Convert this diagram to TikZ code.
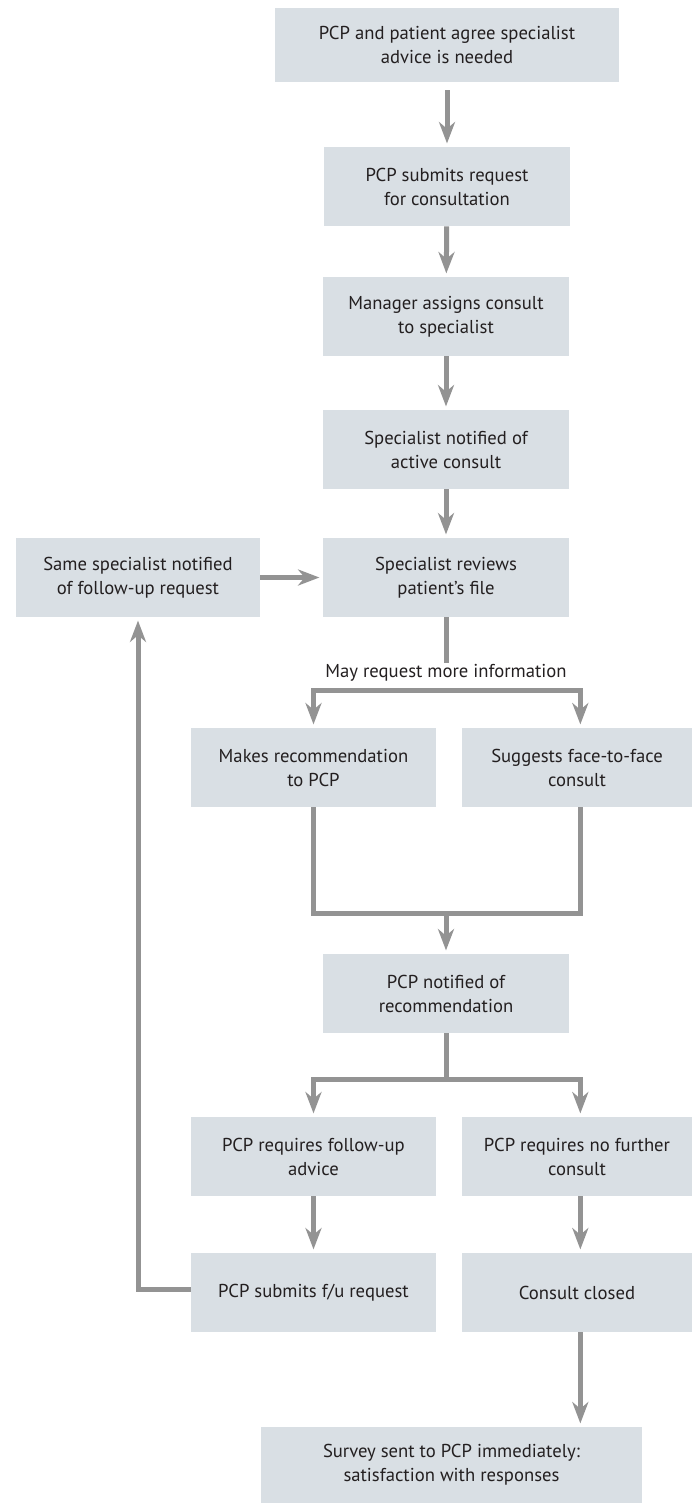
\documentclass[tikz,border=0pt]{standalone}
\usepackage{fontspec}
\setmainfont{PT Sans}
\usetikzlibrary{arrows.meta}
\definecolor{boxfill}{HTML}{D9DFE4}
\definecolor{linegray}{HTML}{939393}
\definecolor{txt}{HTML}{231F20}
\begin{document}
\begin{tikzpicture}[x=0.75pt,y=-0.75pt,
  box/.style={fill=boxfill, draw=none, text=txt, align=center, inner sep=0pt,
    font=\fontsize{14}{18}\selectfont},
  conn/.style={draw=linegray, line width=3.75pt},
  arr/.style={conn, -{Stealth[length=16pt,width=12pt,inset=5pt]}, shorten >=2.5pt}]
\useasboundingbox (0,0) rectangle (694,1503);
\node[box, minimum width=258pt, minimum height=55.5pt] (b1) at (447,45) {PCP and patient agree specialist\\advice is needed};
\node[box, minimum width=184.5pt, minimum height=59.25pt] (b2) at (447,186.5) {PCP submits request\\for consultation};
\node[box, minimum width=184.5pt, minimum height=59.25pt] (b3) at (446,316.5) {Manager assigns consult\\to specialist};
\node[box, minimum width=184.5pt, minimum height=59.25pt] (b4) at (446,449.5) {Specialist notified of\\active consult};
\node[box, minimum width=184.5pt, minimum height=59.25pt] (b5) at (446,577.5) {Specialist reviews\\patient’s file};
\node[box, minimum width=183pt, minimum height=59.25pt] (b6) at (138,577.5) {Same specialist notified\\of follow-up request};
\node[box, minimum width=183.75pt, minimum height=59.25pt] (b7) at (313.5,767.5) {Makes recommendation\\to PCP};
\node[box, minimum width=172.5pt, minimum height=59.25pt] (b8) at (577,767.5) {Suggests face-to-face\\consult};
\node[box, minimum width=184.5pt, minimum height=59.25pt] (b9) at (446,993.5) {PCP notified of\\recommendation};
\node[box, minimum width=183.75pt, minimum height=59.25pt] (b10) at (313.5,1156.5) {PCP requires follow-up\\advice};
\node[box, minimum width=172.5pt, minimum height=59.25pt] (b11) at (577,1156.5) {PCP requires no further\\consult};
\node[box, minimum width=183.75pt, minimum height=59.25pt] (b12) at (313.5,1292.5) {PCP submits f/u request};
\node[box, minimum width=172.5pt, minimum height=59.25pt] (b13) at (577,1292.5) {Consult closed};
\node[box, minimum width=285.75pt, minimum height=57pt] (b14) at (451.5,1465) {Survey sent to PCP immediately:\\satisfaction with responses};
\node[text=txt, inner sep=1pt, font=\fontsize{14}{18}\selectfont] (lbl) at (446,673) {May request more information};
\coordinate (sp1) at (446,690);
\coordinate (mg) at (446,913);
\coordinate (sp2) at (446,1079);
% connectors
\draw[arr, shorten <=6pt] (b1) -- (b2);
\draw[arr] (b2) -- (b3);
\draw[arr] (b3) -- (b4);
\draw[arr] (b4) -- (b5);
\draw[arr] (b6) -- (b5);
\draw[conn] (b5.south) -- (lbl.north);
\draw[arr] (sp1) -| (b7.north);
\draw[arr] (sp1) -| ([xshift=2.5pt]b8.north);
\draw[conn] (b7.south) |- (mg) -| ([xshift=2.5pt]b8.south);
\draw[arr] (mg) -- (b9.north);
\draw[conn] (b9.south) -- (sp2);
\draw[arr] (sp2) -| (b10.north);
\draw[arr] (sp2) -| ([xshift=2.5pt]b11.north);
\draw[arr] (b10) -- (b12);
\draw[arr] ([xshift=2.5pt]b11.south) -- ([xshift=2.5pt]b13.north);
\draw[arr] ([yshift=2.6pt]b12.west) -| (b6.south);
\draw[arr] ([xshift=2.5pt]b13.south) -- ([xshift=2.5pt]b13.south |- b14.north);
\end{tikzpicture}
\end{document}
